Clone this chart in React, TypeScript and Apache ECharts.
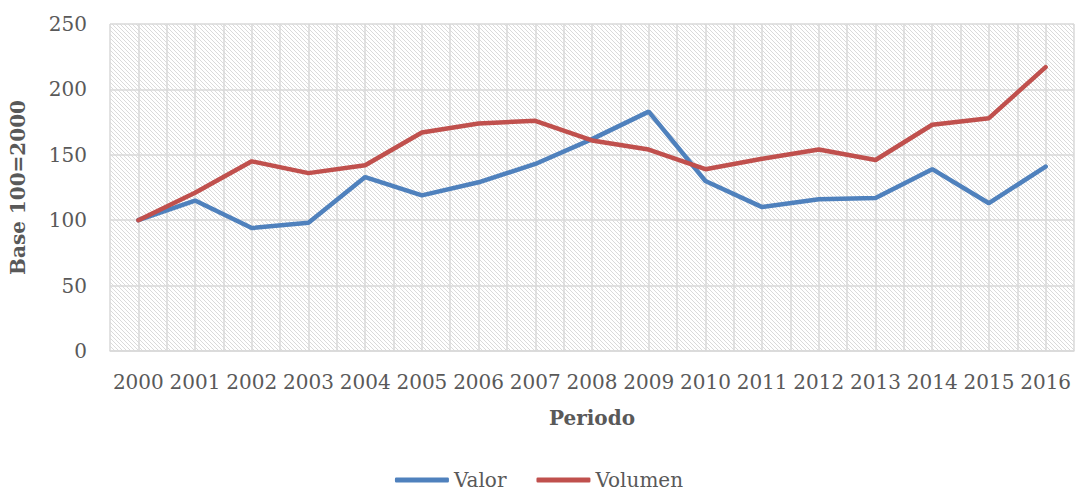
import React, { useEffect, useRef } from "react";
import * as echarts from "echarts";

const years = ["2000","2001","2002","2003","2004","2005","2006","2007","2008","2009","2010","2011","2012","2013","2014","2015","2016"];
const valor = [100, 115, 94, 98, 133, 119, 129, 143, 162, 183, 130, 110, 116, 117, 139, 113, 141];
const volumen = [100, 121, 145, 136, 142, 167, 174, 176, 161, 154, 139, 147, 154, 146, 173, 178, 217];
const yTicks = { min: 0, max: 250, interval: 50 };

function makeHatch(): HTMLCanvasElement {
  const c = document.createElement("canvas");
  c.width = 8;
  c.height = 8;
  const ctx = c.getContext("2d")!;
  ctx.fillStyle = "#ffffff";
  ctx.fillRect(0, 0, 8, 8);
  ctx.fillStyle = "#dadada";
  for (let y = 0; y < 8; y++) {
    for (let x = 0; x < 8; x++) {
      if ((x - y + 16) % 4 === 0) ctx.fillRect(x, y, 1, 1);
    }
  }
  return c;
}

export default function App() {
  const ref = useRef<HTMLDivElement>(null);
  useEffect(() => {
    if (!ref.current) return;
    const chart = echarts.init(ref.current, null, { renderer: "svg" });
    const hatch = makeHatch();
    const font = "DejaVu Serif";
    const txt = "#595959";
    const grid = "#d9d9d9";
    chart.setOption({
      animation: false,
      textStyle: { fontFamily: font },
      grid: {
        left: 104,
        right: 4,
        top: 24,
        bottom: 144,
        show: true,
        borderWidth: 0,
        backgroundColor: { image: hatch, repeat: "repeat", imageWidth: 8, imageHeight: 8 },
      },
      legend: {
        top: 465,
        left: "center",
        itemWidth: 54,
        itemHeight: 5,
        itemGap: 30,
        icon: "roundRect",
        formatter: "{s|{name}}",
        textStyle: {
          color: txt,
          fontSize: 20,
          fontFamily: font,
          rich: { s: { fontFamily: font, fontSize: 20, color: txt } },
        },
        data: ["Valor", "Volumen"],
      },
      xAxis: [
        {
          type: "category",
          data: years,
          boundaryGap: true,
          name: "Periodo",
          nameLocation: "middle",
          nameGap: 57,
          nameTextStyle: { color: txt, fontSize: 20, fontWeight: "bold", fontFamily: font },
          axisLine: { show: true, lineStyle: { color: grid, width: 1.5 } },
          axisTick: { show: false },
          splitLine: { show: false },
          axisLabel: { color: txt, fontSize: 20, margin: 21, interval: 0, fontFamily: font },
        },
        {
          type: "value",
          min: -0.5,
          max: 16.5,
          interval: 0.5,
          position: "bottom",
          show: true,
          axisLine: { show: false },
          axisTick: { show: false },
          axisLabel: { show: false },
          splitLine: { show: true, lineStyle: { color: grid, width: 1.5 } },
        },
      ],
      yAxis: {
        type: "value",
        min: yTicks.min,
        max: yTicks.max,
        interval: yTicks.interval,
        name: "Base 100=2000",
        nameLocation: "middle",
        nameRotate: 90,
        nameGap: 82,
        nameTextStyle: { color: txt, fontSize: 20, fontWeight: "bold", fontFamily: font },
        axisLine: { show: false },
        axisTick: { show: false },
        splitLine: { show: true, lineStyle: { color: grid, width: 1.5 } },
        axisLabel: { color: txt, fontSize: 20, margin: 23, fontFamily: font },
      },
      series: [
        {
          name: "Valor",
          type: "line",
          xAxisIndex: 0,
          data: valor,
          symbol: "none",
          color: "#4F81BD",
          lineStyle: { width: 4.5, color: "#4F81BD", cap: "round" },
        },
        {
          name: "Volumen",
          type: "line",
          xAxisIndex: 0,
          data: volumen,
          symbol: "none",
          color: "#C0504D",
          lineStyle: { width: 4.5, color: "#C0504D", cap: "round" },
        },
      ],
    });
    return () => chart.dispose();
  }, []);
  return <div ref={ref} style={{ width: 1078, height: 495, position: "absolute", left: 0, top: 0 }} />;
}
